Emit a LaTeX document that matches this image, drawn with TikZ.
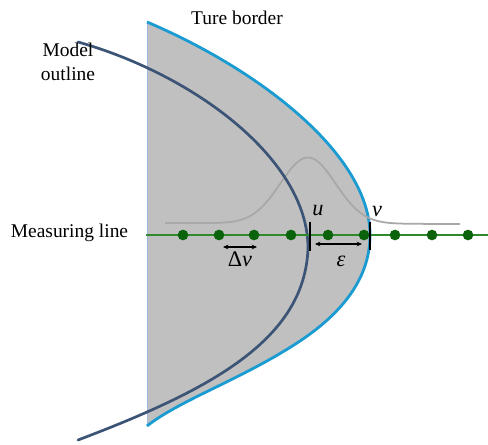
\documentclass[tikz,border=0pt]{standalone}
\usepackage{fontspec}
\setmainfont{Liberation Serif}
\usetikzlibrary{arrows.meta}
\definecolor{BorderBlue}{HTML}{1A9BD1}
\definecolor{OutlineBlue}{HTML}{3C5476}
\definecolor{RegionGray}{HTML}{C0C0C0}
\definecolor{ProfileGray}{HTML}{A8A8A8}
\definecolor{LineGreen}{HTML}{2F8A2F}
\definecolor{DotGreen}{HTML}{0A620A}
\definecolor{EdgeBlue}{HTML}{9DB9E0}

\begin{document}
\begin{tikzpicture}[
    x=0.03cm, y=-0.03cm,
    font=\fontsize{16.6}{20.4}\selectfont,
    true border/.style={draw=BorderBlue, line width=2.4pt, line join=round},
    model/.style={draw=OutlineBlue, line width=2.3pt, line cap=round},
    profile/.style={draw=ProfileGray, line width=1.5pt},
    measure/.style={draw=LineGreen, line width=1.4pt},
    sample/.style={circle, fill=DotGreen, inner sep=0pt, minimum size=0.32cm},
    tick mark/.style={draw=black, line width=1.5pt},
    gap/.style={{Stealth[length=1.6mm,width=1.4mm]}-{Stealth[length=1.6mm,width=1.4mm]},
                draw=black, line width=0.9pt},
    label/.style={inner sep=0pt, font=\fontsize{19}{22}\selectfont}
]
    \useasboundingbox (0,0) rectangle (488,444);

    % region inside the true border
    \coordinate (top) at (147,22);
    \coordinate (tip) at (370,235);
    \coordinate (bottom) at (147,426);
    \fill[RegionGray] (top) .. controls (260,70) and (370,155) .. (tip)
        .. controls (370,280) and (340,315) .. (297,343)
        .. controls (240,380) and (180,400) .. (bottom) -- cycle;
    \draw[EdgeBlue, line width=0.6pt] (top) -- (bottom);
    \draw[true border] (top) .. controls (260,70) and (370,155) .. (tip)
        .. controls (370,280) and (340,315) .. (297,343)
        .. controls (240,380) and (180,400) .. (bottom);

    % intensity profile along the line
    \draw[profile] plot[domain=165:460, samples=90, smooth]
        (\x, {223 + (\x-165)/295 - 66*exp(-((\x-308)/39)^2)});

    % model outline
    \coordinate (m1) at (78,42);
    \coordinate (m2) at (308,248);
    \coordinate (m3) at (78,440);
    \draw[model] (m1) .. controls (195,75) and (308,160) .. (m2)
        .. controls (305,340) and (210,390) .. (m3);

    % measuring line and samples
    \draw[measure] (146,235) -- (488,235);
    \foreach \x [count=\i] in {183,219,254,291,328,364,395,432,468} {
        \node[sample] (s\i) at (\x,235) {};
    }

    \coordinate (u) at (310,235);
    \coordinate (v) at (370,235);
    \draw[tick mark] ([yshift=0.4cm]u) -- ([yshift=-0.48cm]u);
    \draw[tick mark] ([yshift=0.4cm]v) -- ([yshift=-0.45cm]v);
    \node[label] (ulabel) at (318,211) {\textit{u}};
    \node[label] (vlabel) at (377,211) {\textit{v}};

    \coordinate (dv1) at (223,247);
    \coordinate (dv2) at (257,247);
    \draw[gap] (dv1) -- (dv2);
    \node[label] (dvlabel) at (240,259) {Δ\textit{v}};
    \coordinate (e1) at (315,244);
    \coordinate (e2) at (362,244);
    \draw[gap] (e1) -- (e2);
    \node[label] (elabel) at (341,261) {\textit{ε}};

    % captions
    \node (border) at (237,18) {Ture border};
    \node[align=center] (outline) at (68,62) {Model\\outline};
    \node (mline) at (69.5,233) {Measuring line};
\end{tikzpicture}
\end{document}
